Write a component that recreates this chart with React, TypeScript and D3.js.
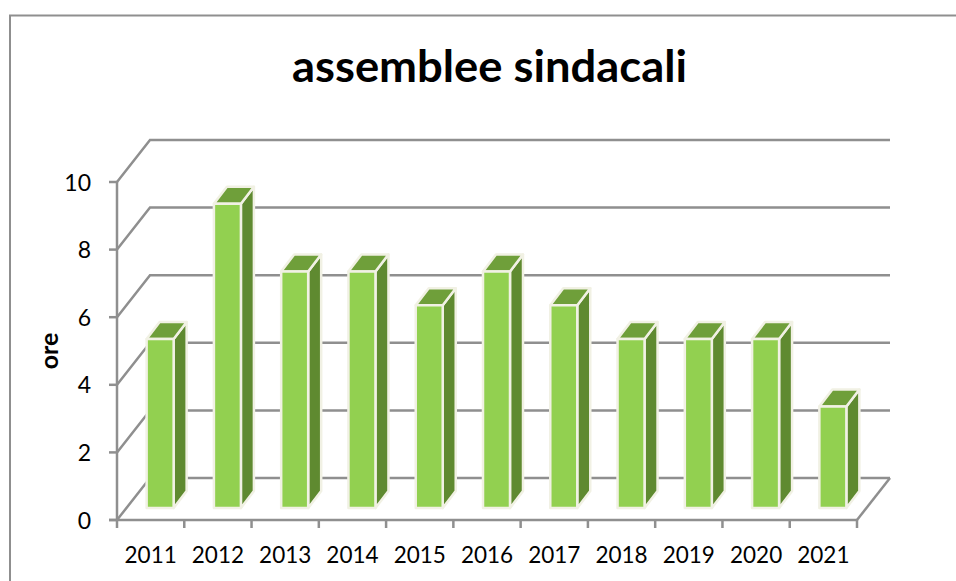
import React from 'react';
import * as d3 from 'd3';

const years = ['2011', '2012', '2013', '2014', '2015', '2016', '2017', '2018', '2019', '2020', '2021'];
const hours = [5, 9, 7, 7, 6, 7, 6, 5, 5, 5, 3];
const yTicks = [0, 2, 4, 6, 8, 10];

const width = 956;
const height = 581;
const gridColor = '#8f8f8f';
const lineWidth = 2.5;
const font = 'Lato, "Open Sans", sans-serif';

// floor depth of the fake 3d box, and of each bar
const depthX = 33;
const depthY = 42;
const barDepthX = 13;
const barDepthY = 17;
const barWidth = 27;
const barShiftX = 9.5;
const barShiftY = 12;

const xScale = d3.scaleBand<string>().domain(years).range([117, 857]);
const yScale = d3.scaleLinear().domain([0, 10]).range([520, 182]);

const poly = d3.line<[number, number]>().curve(d3.curveLinearClosed);
const open = d3.line<[number, number]>();

export default function App() {
  const x0 = xScale.range()[0];
  const x1 = xScale.range()[1];
  const y0 = yScale(0);

  return (
    <svg
      width={width}
      height={height}
      style={{ position: 'absolute', left: 0, top: 0, background: '#fff' }}
    >
      {/* outer chart frame, cropped on the right and bottom */}
      <path d="M10,581V15.5H956" fill="none" stroke={gridColor} strokeWidth={2} />

      <text x={489.5} y={81.5} textAnchor="middle" fontFamily={font} fontWeight={700} fontSize={43} fill="#000" textLength={395} lengthAdjust="spacingAndGlyphs">
        assemblee sindacali
      </text>

      {/* walls */}
      {yTicks.map((t) => (
        <g key={t}>
          <path
            d={open([[x0, yScale(t)], [x0 + depthX, yScale(t) - depthY], [x1 + depthX, yScale(t) - depthY]])!}
            fill="none"
            stroke={gridColor}
            strokeWidth={lineWidth}
          />
          <line x1={x0 - 8} x2={x0} y1={yScale(t)} y2={yScale(t)} stroke={gridColor} strokeWidth={lineWidth} />
          <text x={91} y={yScale(t) + 8.5} textAnchor="end" fontFamily={font} fontSize={23} fill="#000">
            {t}
          </text>
        </g>
      ))}
      <line x1={x0} x2={x0} y1={yScale(10)} y2={y0} stroke={gridColor} strokeWidth={lineWidth} />
      <path
        d={open([[x1, y0], [x1 + depthX, y0 - depthY]])!}
        fill="none"
        stroke={gridColor}
        strokeWidth={lineWidth}
      />
      <line x1={x0 - 8} x2={x1} y1={y0} y2={y0} stroke={gridColor} strokeWidth={lineWidth} />

      {/* x ticks */}
      {[...years.map((y) => xScale(y)!), x1].map((x) => (
        <line key={x} x1={x} x2={x} y1={y0} y2={y0 + 8} stroke={gridColor} strokeWidth={lineWidth} />
      ))}

      {years.map((year, i) => {
        const left = xScale(year)! + xScale.bandwidth() / 2 + barShiftX - barWidth / 2;
        const right = left + barWidth;
        const top = yScale(hours[i]) - barShiftY;
        const bottom = y0 - barShiftY;
        return (
          <g key={year} stroke="#f1f1e4" strokeWidth={2.5} strokeLinejoin="round">
            <path
              d={poly([[right, top], [right + barDepthX, top - barDepthY], [right + barDepthX, bottom - barDepthY], [right, bottom]])!}
              fill="#5f8a30"
            />
            <path
              d={poly([[left, top], [left + barDepthX, top - barDepthY], [right + barDepthX, top - barDepthY], [right, top]])!}
              fill="#6f9f3a"
            />
            <rect x={left} y={top} width={barWidth} height={bottom - top} fill="#92d050" />
          </g>
        );
      })}

      {years.map((year) => (
        <text
          key={year}
          x={xScale(year)! + xScale.bandwidth() / 2}
          y={563}
          textAnchor="middle"
          fontFamily={font}
          fontSize={22.5}
          fill="#000"
        >
          {year}
        </text>
      ))}

      <text
        transform="translate(58,351) rotate(-90)"
        textAnchor="middle"
        fontFamily={font}
        fontWeight={700}
        fontSize={25}
        fill="#000"
      >
        ore
      </text>
    </svg>
  );
}
